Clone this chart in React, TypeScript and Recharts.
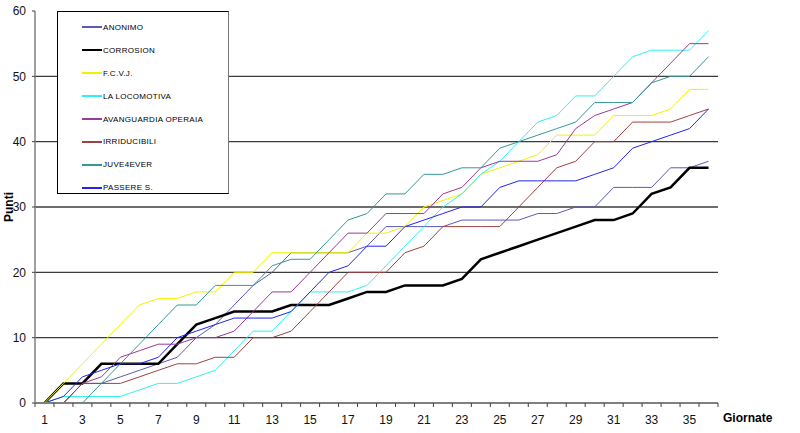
import React from "react";
import { CartesianGrid, Legend, Line, LineChart, XAxis, YAxis } from "recharts";

// giornate 1..36
const GAMES = Array.from({ length: 36 }, (_, i) => i + 1);

const ANONIMO = [0, 0, 3, 3, 4, 5, 6, 7, 10, 12, 15, 18, 20, 23, 23, 23, 23, 24, 27, 27, 27, 27, 28, 28, 28, 28, 29, 29, 30, 30, 33, 33, 33, 36, 36, 37];
const CORROSION = [0, 3, 3, 6, 6, 6, 6, 9, 12, 13, 14, 14, 14, 15, 15, 15, 16, 17, 17, 18, 18, 18, 19, 22, 23, 24, 25, 26, 27, 28, 28, 29, 32, 33, 36, 36];
const FCVJ = [0, 3, 6, 9, 12, 15, 16, 16, 17, 17, 20, 20, 23, 23, 23, 23, 23, 26, 26, 27, 30, 31, 32, 35, 36, 37, 38, 41, 41, 41, 44, 44, 44, 45, 48, 48];
const LOCOMOTIVA = [0, 1, 1, 1, 1, 2, 3, 3, 4, 5, 8, 11, 11, 14, 17, 17, 17, 18, 21, 24, 27, 30, 32, 35, 37, 40, 43, 44, 47, 47, 50, 53, 54, 54, 54, 57];
const AVANGUARDIA = [0, 0, 3, 4, 7, 8, 9, 9, 10, 10, 11, 14, 17, 17, 20, 23, 26, 26, 29, 29, 29, 32, 33, 36, 37, 37, 37, 38, 42, 44, 45, 46, 49, 52, 55, 55];
const IRRIDUCIBILI = [0, 0, 3, 3, 3, 4, 5, 6, 6, 7, 7, 10, 10, 11, 14, 17, 20, 20, 20, 23, 24, 27, 27, 27, 27, 30, 33, 36, 37, 40, 40, 43, 43, 43, 44, 45];
const JUVE4EVER = [0, 0, 0, 3, 6, 9, 12, 15, 15, 18, 18, 18, 21, 22, 22, 25, 28, 29, 32, 32, 35, 35, 36, 36, 39, 40, 41, 42, 43, 46, 46, 46, 49, 50, 50, 53];
const PASSERE = [0, 1, 4, 5, 6, 6, 7, 10, 11, 12, 13, 13, 13, 14, 17, 20, 21, 24, 24, 27, 28, 29, 30, 30, 33, 34, 34, 34, 34, 35, 36, 39, 40, 41, 42, 45];

const X_LABELS = [1, 3, 5, 7, 9, 11, 13, 15, 17, 19, 21, 23, 25, 27, 29, 31, 33, 35];
const X_BOUNDS = Array.from({ length: 37 }, (_, i) => i + 0.5);
const Y_TICKS = [0, 10, 20, 30, 40, 50, 60];

const SERIES = [
  { key: "anonimo", label: "ANONIMO", values: ANONIMO, color: "#5a5ab8", width: 1 },
  { key: "corrosion", label: "CORROSION", values: CORROSION, color: "#000000", width: 2.5 },
  { key: "fcvj", label: "F.C.V.J.", values: FCVJ, color: "#f2f200", width: 1 },
  { key: "locomotiva", label: "LA LOCOMOTIVA", values: LOCOMOTIVA, color: "#2ef2f2", width: 1 },
  { key: "avanguardia", label: "AVANGUARDIA OPERAIA", values: AVANGUARDIA, color: "#9a3a9a", width: 1 },
  { key: "irriducibili", label: "IRRIDUCIBILI", values: IRRIDUCIBILI, color: "#a04040", width: 1 },
  { key: "juve4ever", label: "JUVE4EVER", values: JUVE4EVER, color: "#339999", width: 1 },
  { key: "passere", label: "PASSERE S.", values: PASSERE, color: "#2424f0", width: 1 },
];

const data = GAMES.map((g, i) => {
  const row: Record<string, number> = { g };
  SERIES.forEach((s) => {
    row[s.key] = s.values[i];
  });
  return row;
});

const FONT = "'Liberation Sans', Arial, sans-serif";

function LegendBox() {
  return (
    <div
      style={{
        width: 172,
        height: 183,
        boxSizing: "border-box",
        border: "1px solid #000",
        borderRightColor: "#777",
        background: "#fff",
        fontFamily: FONT,
        fontSize: 8,
        letterSpacing: 0.3,
        color: "#000",
        paddingTop: 4,
      }}
    >
      {SERIES.map((s) => (
        <div key={s.key} style={{ display: "flex", alignItems: "center", height: 22.9 }}>
          <span
            style={{
              display: "inline-block",
              marginLeft: 24,
              width: 20,
              height: 2,
              background: s.color,
            }}
          />
          <span style={{ marginLeft: 1 }}>{s.label}</span>
        </div>
      ))}
    </div>
  );
}

export default function App() {
  return (
    <div style={{ position: "absolute", left: 0, top: 0, width: 800, height: 433, background: "#fff" }}>
      <LineChart
        width={800}
        height={433}
        data={data}
        margin={{ top: 11, right: 82, bottom: 0, left: 0 }}
      >
        <CartesianGrid
          vertical={false}
          horizontalValues={[10, 20, 30, 40, 50]}
          stroke="#3c3c3c"
          strokeWidth={1.3}
        />
        <XAxis
          xAxisId="bounds"
          type="number"
          dataKey="g"
          domain={[0.5, 36.5]}
          allowDataOverflow
          ticks={X_BOUNDS}
          tickFormatter={() => ""}
          tickSize={4}
          height={4}
          axisLine={{ stroke: "#808080", strokeWidth: 2 }}
          tickLine={{ stroke: "#404040" }}
        />
        <XAxis
          xAxisId="games"
          type="number"
          dataKey="g"
          domain={[0.5, 36.5]}
          allowDataOverflow
          ticks={X_LABELS}
          axisLine={false}
          tickLine={false}
          tickSize={6}
          tickMargin={2}
          height={26}
          tick={{ fontSize: 12, fill: "#111", fontFamily: FONT }}
          label={{
            value: "Giornate",
            position: "right",
            offset: 5,
            dy: -2,
            style: { fontSize: 12, fontWeight: "bold", fill: "#000", fontFamily: FONT },
          }}
        />
        <YAxis
          type="number"
          domain={[0, 60]}
          ticks={Y_TICKS}
          width={35}
          tickSize={3}
          tickMargin={6}
          axisLine={{ stroke: "#808080", strokeWidth: 1.5 }}
          tickLine={{ stroke: "#404040" }}
          tick={{ fontSize: 12, fill: "#111", fontFamily: FONT }}
          label={{
            value: "Punti",
            angle: -90,
            position: "center",
            dx: -9,
            style: { fontSize: 12, fontWeight: "bold", fill: "#000", fontFamily: FONT },
          }}
        />
        <Legend
          layout="vertical"
          align="center"
          verticalAlign="middle"
          wrapperStyle={{ position: "absolute", left: 57, top: 11, width: 172 }}
          content={() => <LegendBox />}
        />
        {SERIES.map((s) => (
          <Line
            key={s.key}
            xAxisId="games"
            type="linear"
            dataKey={s.key}
            name={s.label}
            stroke={s.color}
            strokeWidth={s.width}
            dot={false}
            activeDot={false}
            isAnimationActive={false}
          />
        ))}
      </LineChart>
    </div>
  );
}
